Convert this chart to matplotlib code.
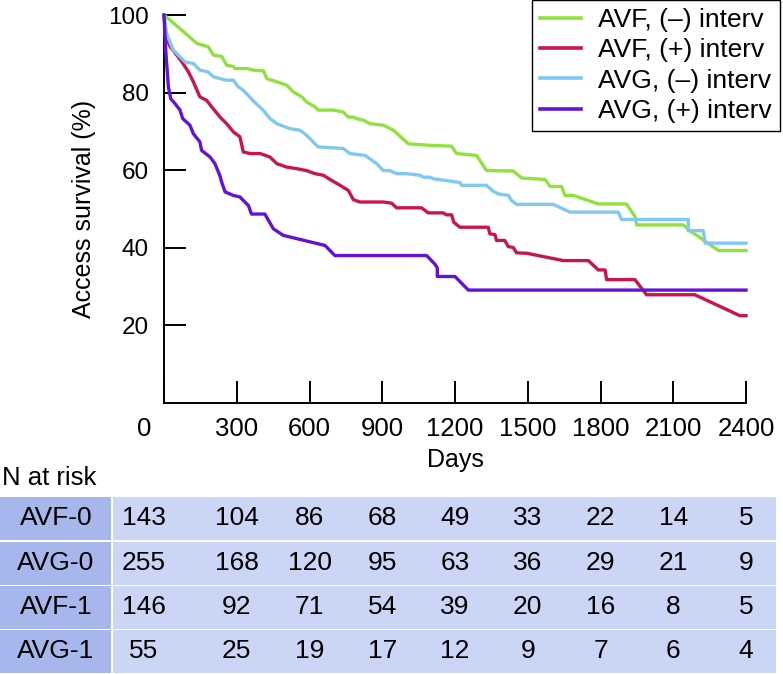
import matplotlib
matplotlib.use('Agg')
import matplotlib.pyplot as plt
import matplotlib.transforms as mtransforms
from matplotlib.patches import Rectangle

# Kaplan-Meier style curves (days, survival %)
avf0_days = [0, 73, 135, 183, 203, 238, 258, 286, 293, 341, 368, 410, 424, 465, 506, 533, 568, 588,
             623, 636, 698, 739, 760, 781, 794, 822, 849, 904, 918, 946, 1008, 1097, 1186, 1206, 1289,
             1330, 1440, 1475, 1571, 1592, 1640, 1653, 1688, 1791, 1907, 1942, 1949, 2141, 2169, 2286, 2400]
avf0_surv = [100, 96.1, 92.7, 91.8, 89.7, 89.3, 87.1, 86.7, 86.2, 86.2, 85.8, 85.6, 83.6, 82.8, 81.9,
             80.2, 78.9, 77.6, 76.3, 75.5, 75.5, 75.0, 73.7, 73.7, 73.3, 72.9, 72.0, 71.6, 71.2, 70.3,
             66.8, 66.4, 66.2, 64.3, 63.8, 59.9, 59.8, 58.0, 57.6, 55.8, 55.8, 53.5, 53.5, 51.3, 51.3,
             48.1, 45.9, 45.9, 44.4, 39.3, 39.3]

avf1_days = [0, 8, 25, 52, 73, 100, 121, 148, 176, 197, 231, 258, 286, 313, 327, 355, 396, 437, 465,
             506, 547, 588, 623, 657, 685, 726, 760, 781, 808, 904, 939, 959, 1062, 1090, 1151, 1165,
             1186, 1195, 1220, 1337, 1344, 1365, 1371, 1405, 1420, 1440, 1454, 1495, 1647, 1750, 1791,
             1819, 1825, 1942, 1990, 2189, 2375, 2400]
avf1_surv = [100, 94.4, 91.9, 89.7, 88.0, 85.4, 82.8, 78.9, 78.0, 76.3, 73.7, 72.0, 69.9, 68.6, 64.7,
             64.3, 64.3, 63.4, 61.7, 60.8, 60.4, 59.9, 59.1, 58.7, 57.6, 56.1, 54.8, 52.4, 51.8, 51.8,
             51.5, 50.3, 50.3, 49.0, 49.0, 48.5, 48.5, 46.6, 45.3, 45.3, 43.6, 43.4, 41.9, 41.9, 40.3,
             40.1, 38.7, 38.6, 36.7, 36.7, 34.3, 34.3, 31.8, 31.8, 27.9, 27.9, 22.5, 22.5]

avg0_days = [0, 11, 38, 87, 121, 148, 183, 203, 231, 258, 286, 306, 327, 368, 410, 437, 465, 519, 561,
             588, 623, 636, 739, 767, 829, 877, 904, 932, 959, 1000, 1056, 1069, 1097, 1110, 1179, 1221,
             1227, 1330, 1357, 1378, 1420, 1433, 1454, 1605, 1674, 1873, 1887, 2162, 2162, 2224, 2231, 2400]
avg0_surv = [100, 95.2, 91.0, 87.9, 87.5, 85.8, 85.3, 84.1, 83.6, 83.2, 83.2, 81.5, 80.6, 77.9, 75.4,
             73.3, 72.0, 70.7, 70.3, 69.0, 66.8, 66.0, 65.6, 64.3, 63.8, 61.7, 59.9, 59.9, 59.1, 59.1,
             58.7, 58.2, 58.2, 57.8, 57.2, 56.8, 56.1, 56.1, 54.6, 53.9, 53.5, 52.2, 51.2, 51.2, 49.2,
             49.2, 47.3, 47.3, 44.4, 44.4, 41.2, 41.2]

avg1_days = [0, 7, 18, 28, 45, 66, 77, 107, 121, 148, 155, 190, 210, 231, 238, 252, 286, 313, 348, 361,
             416, 451, 492, 664, 705, 1083, 1117, 1127, 1127, 1200, 1255, 2400]
avg1_surv = [100, 91.0, 81.5, 78.4, 77.2, 75.5, 73.3, 71.6, 69.4, 67.3, 65.1, 63.4, 61.7, 58.5, 56.9,
             54.4, 53.5, 53.1, 50.9, 48.7, 48.7, 44.9, 43.2, 40.6, 38.0, 38.0, 35.8, 34.8, 32.6, 32.6,
             29.1, 29.1]

labels = ['AVF, (\u2013) interv', 'AVF, (+) interv', 'AVG, (\u2013) interv', 'AVG, (+) interv']
colors = ['#8fe23c', '#c8154f', '#80c8f2', '#6412d8']

# number at risk table
x_ticks = [0, 300, 600, 900, 1200, 1500, 1800, 2100, 2400]
row_names = ['AVF-0', 'AVG-0', 'AVF-1', 'AVG-1']
n_avf0 = [143, 104, 86, 68, 49, 33, 22, 14, 5]
n_avg0 = [255, 168, 120, 95, 63, 36, 29, 21, 9]
n_avf1 = [146, 92, 71, 54, 39, 20, 16, 8, 5]
n_avg1 = [55, 25, 19, 17, 12, 9, 7, 6, 4]
n_rows = [n_avf0, n_avg0, n_avf1, n_avg1]

plt.rcParams['font.family'] = ['Liberation Sans', 'DejaVu Sans']

W, H = 783, 674
fig = plt.figure(figsize=(W / 100, H / 100), dpi=100)
ax = fig.add_axes([164 / W, 1 - 403 / H, (746 - 164) / W, (403 - 15) / H])

curves = [(avf0_days, avf0_surv), (avf1_days, avf1_surv), (avg0_days, avg0_surv), (avg1_days, avg1_surv)]
for (d, s), c, lab in zip(curves, colors, labels):
    ax.plot(d, s, color=c, lw=2.4, label=lab, clip_on=False, zorder=3)

ax.set_xlim(0, 2400)
ax.set_ylim(0, 100)
ax.spines['top'].set_visible(False)
ax.spines['right'].set_visible(False)
ax.spines['left'].set_linewidth(1.4)
ax.spines['bottom'].set_linewidth(1.4)

ax.set_xticks(x_ticks)
ax.set_xticklabels([str(t) for t in x_ticks])
ax.set_yticks([20, 40, 60, 80, 100])
ax.tick_params(direction='in', length=16, width=1.4)
ax.tick_params(axis='y', pad=11, labelsize=17.5)
ax.tick_params(axis='x', pad=10, labelsize=18.5)

# the "0" sits left of the origin, like the first table column
shift = mtransforms.ScaledTranslation(-0.20, 0, fig.dpi_scale_trans)
lbl0 = ax.xaxis.get_major_ticks()[0].label1
lbl0.set_transform(lbl0.get_transform() + shift)

ax.set_xlabel('Days', fontsize=18)
ax.xaxis.set_label_coords(0.5, -0.115)
ax.set_ylabel('Access survival (%)', fontsize=18)
ax.yaxis.set_label_coords(-0.117, 0.5)

leg = ax.legend(loc='upper right', bbox_to_anchor=(780 / W, 1.0), bbox_transform=fig.transFigure,
                fontsize=19, frameon=True, fancybox=False, framealpha=1, edgecolor='black',
                borderaxespad=0, borderpad=0.3, labelspacing=0.24, handlelength=1.55, handletextpad=0.65)
leg.get_frame().set_linewidth(1.0)
for h in leg.get_lines():
    h.set_linewidth(2.6)

# table
fig.text(2 / W, 1 - 478 / H, 'N at risk', ha='left', va='center', fontsize=18.5)
row_top = [497, 542, 586, 630]
row_h = 42.5
col_tr = mtransforms.blended_transform_factory(ax.transData, fig.transFigure)
for i, (name, vals) in enumerate(zip(row_names, n_rows)):
    y0 = 1 - (row_top[i] + row_h) / H
    fig.patches.append(Rectangle((0, y0), 111 / W, row_h / H, transform=fig.transFigure,
                                 facecolor='#a7b7eb', edgecolor='none'))
    fig.patches.append(Rectangle((113 / W, y0), (776 - 113) / W, row_h / H, transform=fig.transFigure,
                                 facecolor='#cbd5f5', edgecolor='none'))
    yc = 1 - (row_top[i] + row_h / 2) / H
    fig.text(56 / W, yc, name, ha='center', va='center', fontsize=19)
    for j, (t, v) in enumerate(zip(x_ticks, vals)):
        tr = col_tr + shift if j == 0 else col_tr
        fig.text(t, yc, str(v), ha='center', va='center', fontsize=19, transform=tr)

fig.savefig('out.png', dpi=100)
